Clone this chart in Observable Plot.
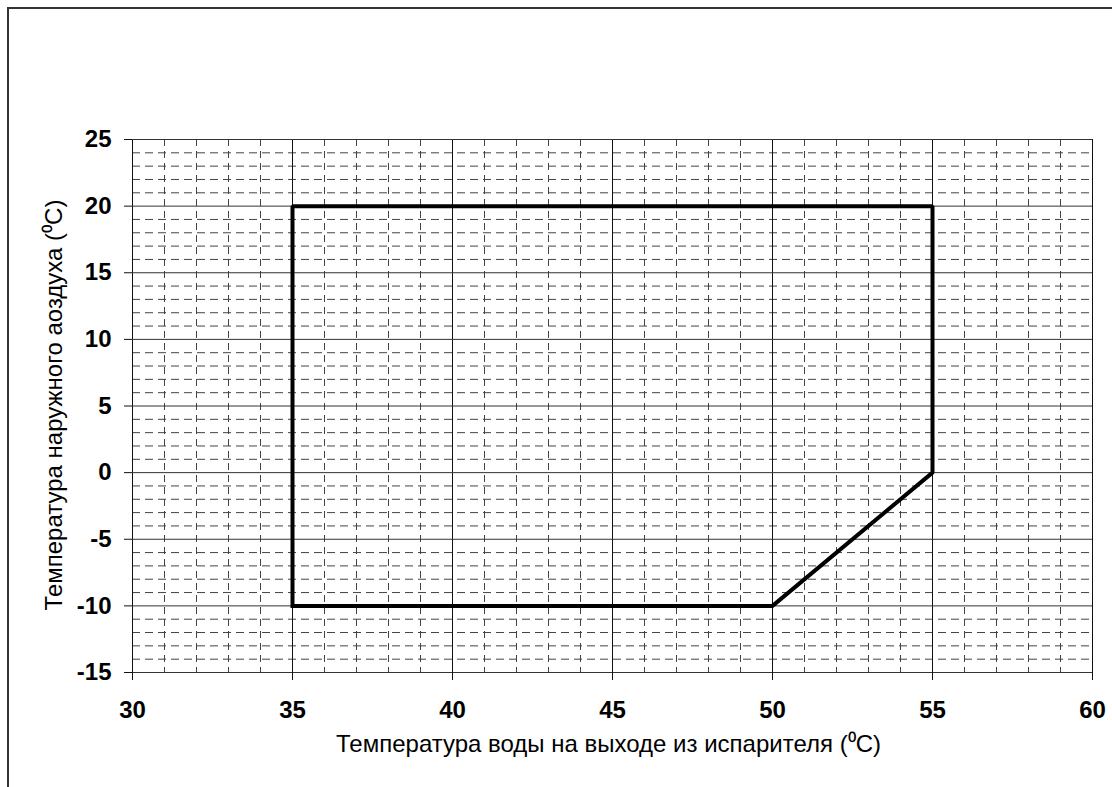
<!DOCTYPE html>
<html>
<head>
<meta charset="utf-8">
<script src="https://cdn.jsdelivr.net/npm/d3@7"></script>
<script src="https://cdn.jsdelivr.net/npm/@observablehq/plot@0.6"></script>
<style>
  html, body { margin: 0; padding: 0; background: #fff; overflow: hidden; }
  #wrap { position: relative; width: 1112px; height: 787px; }
  #frame { position: absolute; left: 7px; top: 7px; width: 2000px; height: 2000px;
           border-left: 2px solid #333; border-top: 2px solid #333; pointer-events: none; z-index: 2; }
</style>
</head>
<body>
<div id="wrap"><div id="frame"></div></div>
<script>
// Tick values
const xTicks = [30, 35, 40, 45, 50, 55, 60];
const yTicks = [-15, -10, -5, 0, 5, 10, 15, 20, 25];
// Minor grid (every 1 unit)
const minorX = [31, 32, 33, 34, 36, 37, 38, 39, 41, 42, 43, 44, 46, 47, 48, 49, 51, 52, 53, 54, 56, 57, 58, 59];
const minorY = [-14, -13, -12, -11, -9, -8, -7, -6, -4, -3, -2, -1, 1, 2, 3, 4, 6, 7, 8, 9, 11, 12, 13, 14, 16, 17, 18, 19, 21, 22, 23, 24];
// Operating envelope
const envX = [35, 35, 55, 55, 50, 35];
const envY = [-10, 20, 20, 0, -10, -10];
const xTitle = "Температура воды на выходе из испарителя (⁰С)";
const yTitle = "Температура наружного аоздуха (⁰С)";

const envelope = envX.map((x, i) => ({x, y: envY[i]}));
const font = "'Liberation Sans', Arial, Helvetica, sans-serif";

const chart = Plot.plot({
  width: 1112,
  height: 787,
  marginLeft: 132,
  marginRight: 20,
  marginTop: 139,
  marginBottom: 115,
  style: {fontFamily: font, background: "white", color: "#000"},
  x: {domain: [30, 60]},
  y: {domain: [-15, 25]},
  marks: [
    Plot.ruleX(minorX, {stroke: "#444", strokeWidth: 1, strokeDasharray: "7,5"}),
    Plot.ruleY(minorY, {stroke: "#444", strokeWidth: 1, strokeDasharray: "8,5"}),
    Plot.ruleX(xTicks, {stroke: "#111", strokeWidth: 1}),
    Plot.ruleY(yTicks, {stroke: "#333", strokeWidth: 1}),
    Plot.axisX({ticks: xTicks, tickSize: 8, tickPadding: 20, label: null, fontSize: 24, fontWeight: "bold", stroke: "#111", tickFormat: d => String(d)}),
    Plot.axisY({ticks: yTicks, tickSize: 8, tickPadding: 13, label: null, fontSize: 24, fontWeight: "bold", stroke: "#111", tickFormat: d => String(d)}),
    Plot.line(envelope, {x: "x", y: "y", stroke: "#000", strokeWidth: 4, strokeLinejoin: "miter", strokeLinecap: "square"}),
    Plot.text([xTitle], {text: d => d, frameAnchor: "bottom", dx: -4, dy: 79, fontSize: 24, fill: "#000", textAnchor: "middle"}),
    Plot.text([yTitle], {text: d => d, frameAnchor: "left", dx: -78, dy: -1, rotate: -90, fontSize: 24, fill: "#000", textAnchor: "middle"})
  ]
});
document.getElementById("wrap").appendChild(chart);
chart.style.position = "absolute";
chart.style.left = "0";
chart.style.top = "0";
</script>
</body>
</html>
